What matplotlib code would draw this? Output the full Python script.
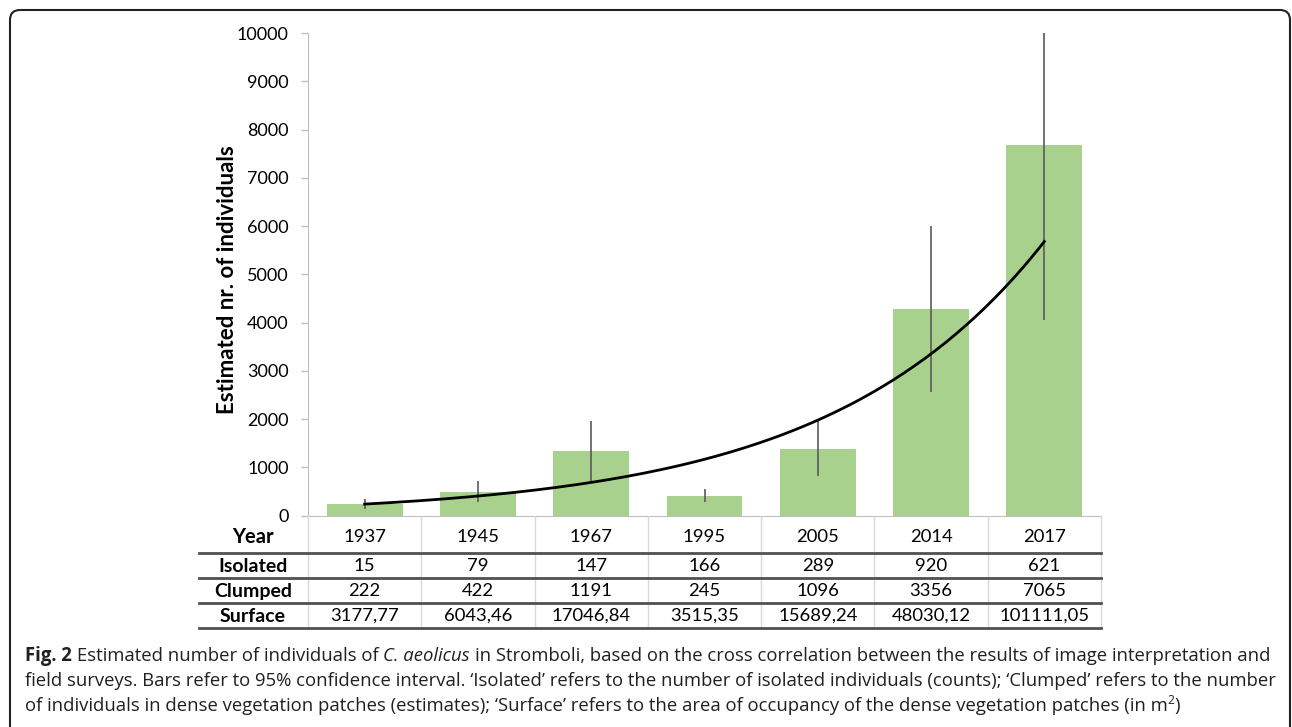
import numpy as np
import matplotlib
matplotlib.use('Agg')
import matplotlib.pyplot as plt
from matplotlib.patches import FancyBboxPatch

# Datos
years = ['1937', '1945', '1967', '1995', '2005', '2014', '2017']
isolated = [15, 79, 147, 166, 289, 920, 621]
clumped = [222, 422, 1191, 245, 1096, 3356, 7065]
surface = ['3177,77', '6043,46', '17046,84', '3515,35', '15689,24', '48030,12', '101111,05']
total = [237, 501, 1338, 411, 1385, 4276, 7686]
ci_low = [140, 290, 726, 290, 823, 2560, 4060]
ci_high = [346, 726, 1965, 548, 2000, 6010, 10000]

plt.rcParams['font.family'] = ['Lato', 'DejaVu Sans']

W, H = 1292, 727
fig = plt.figure(figsize=(W / 100, H / 100), dpi=100)
ax = fig.add_axes([308 / W, (H - 515.7) / H, 793 / W, (515.7 - 33) / H])

x = np.arange(len(years))
tot = np.array(total)
ax.bar(x, tot, width=0.67, color='#a9d18e', zorder=2)
ax.errorbar(x, tot, yerr=[tot - np.array(ci_low), np.array(ci_high) - tot],
            fmt='none', ecolor='#5a5a5a', elinewidth=1.2, capsize=0, zorder=3)

# línea de tendencia exponencial (ajuste sobre los totales)
coef = np.polyfit(x + 1, np.log(tot), 1)
xs = np.linspace(0, 6, 200)
ax.plot(xs, np.exp(np.polyval(coef, xs + 1)), color='black', lw=2, zorder=4)

ax.set_xlim(-0.5, 6.5)
ax.set_ylim(0, 10000)
ax.set_yticks(np.arange(0, 10001, 1000))
ax.set_xticks([])
ax.tick_params(axis='y', length=5, width=1, color='#bfbfbf', pad=9, labelsize=13)
for s in ['top', 'right']:
    ax.spines[s].set_visible(False)
for s in ['left', 'bottom']:
    ax.spines[s].set_color('#bfbfbf')

# capa superpuesta en píxeles para tabla, marco y leyenda
ov = fig.add_axes([0, 0, 1, 1])
ov.set_xlim(0, W)
ov.set_ylim(H, 0)
ov.axis('off')
ov.patch.set_alpha(0)

cx = ax.transData.transform(np.c_[x, np.zeros(len(x))])[:, 0]
bx = ax.transData.transform(np.c_[np.arange(-0.5, 7, 1), np.zeros(8)])[:, 0]

row_labels = ['Year', 'Isolated', 'Clumped', 'Surface']
row_vals = [years, isolated, clumped, surface]
row_y = [537, 566, 591, 616]
line_y = [553, 578, 603, 628]

for xb in bx:
    ov.plot([xb, xb], [515.7, 628], color='#d9d9d9', lw=1)
for ly in line_y:
    ov.plot([199, bx[-1]], [ly, ly], color='#505050', lw=2)
for lab, vals, ry in zip(row_labels, row_vals, row_y):
    ov.text(253, ry, lab, ha='center', va='center', fontsize=14.5 if lab == 'Year' else 14,
            fontweight='bold')
    for xc, v in zip(cx, vals):
        ov.text(xc, ry, str(v), ha='center', va='center', fontsize=13.3)

ov.text(227, 280, 'Estimated nr. of individuals', rotation=90, ha='center',
        va='center', fontsize=16, fontweight='bold')

# marco redondeado
ov.add_patch(FancyBboxPatch((10, 10), 1280, 730, boxstyle='round,pad=0,rounding_size=10',
                            fill=False, edgecolor='#222222', lw=1.5))

# pie de figura
renderer = fig.canvas.get_renderer()
cap_font = ['Open Sans', 'DejaVu Sans']
cap_color = '#231f20'


def ancho(txt, size, weight='normal', style='normal'):
    t = ov.text(0, 0, txt, fontsize=size, family=cap_font, fontweight=weight, fontstyle=style)
    w = t.get_window_extent(renderer).width
    t.remove()
    return w


lines = [
    [('Fig. 2', 'bold', 'normal', 0), ('Estimated number of individuals of', 'normal', 'normal', 1),
     ('C. aeolicus', 'normal', 'italic', 1),
     ('in Stromboli, based on the cross correlation between the results of image interpretation and',
      'normal', 'normal', 1)],
    [('field surveys. Bars refer to 95% confidence interval. \u2018Isolated\u2019 refers to the number of '
      'isolated individuals (counts); \u2018Clumped\u2019 refers to the number', 'normal', 'normal', 0)],
    [('of individuals in dense vegetation patches (estimates); \u2018Surface\u2019 refers to the area of '
      'occupancy of the dense vegetation patches (in m', 'normal', 'normal', 0),
     ('2', 'sup', 'normal', 0), (')', 'normal', 'normal', 0)],
]

s0 = 10
esp0 = ancho('x x', s0) - ancho('xx', s0)
w1 = sum(ancho(t, s0, wt, st) for t, wt, st, g in lines[0]) + 3 * esp0
size = s0 * (1248 / w1)
esp = esp0 * size / s0

cap_y = [656, 681, 706]
for runs, yy in zip(lines, cap_y):
    xx = 25
    for t, wt, st, g in runs:
        xx += g * esp
        if wt == 'sup':
            tx = ov.text(xx, yy - 6, t, fontsize=size * 0.65, family=cap_font, color=cap_color,
                         ha='left', va='center')
        else:
            tx = ov.text(xx, yy, t, fontsize=size, family=cap_font, fontweight=wt, fontstyle=st,
                         color=cap_color, ha='left', va='center')
        xx += tx.get_window_extent(renderer).width

fig.savefig('out.png', dpi=100)
